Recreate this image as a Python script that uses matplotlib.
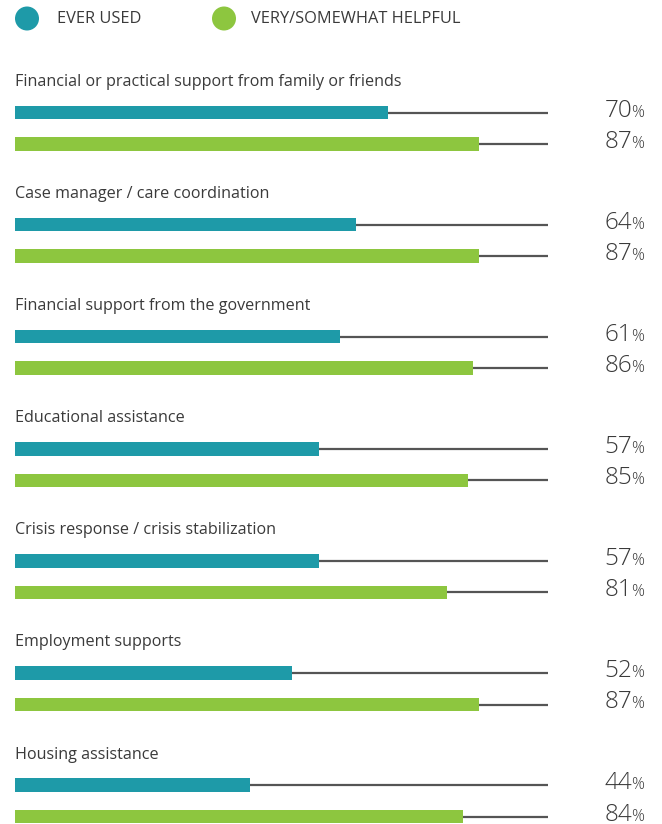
import matplotlib.pyplot as plt
from matplotlib.patches import Circle

categories = [
    "Financial or practical support from family or friends",
    "Case manager / care coordination",
    "Financial support from the government",
    "Educational assistance",
    "Crisis response / crisis stabilization",
    "Employment supports",
    "Housing assistance",
]
ever_used = [70, 64, 61, 57, 57, 52, 44]
helpful = [87, 87, 86, 85, 81, 87, 84]
series_names = ["EVER USED", "VERY/SOMEWHAT HELPFUL"]

TEAL = "#1e9aa8"
GREEN = "#8dc63f"
TRACK = "#555555"
TEXT = "#3a3a3a"

W, H = 662, 824
plt.rcParams['font.family'] = ['Open Sans', 'DejaVu Sans']

fig = plt.figure(figsize=(W / 100, H / 100), dpi=100)

# bar area: 0-100% spans x = 15..548 px, y axis in pixel rows
x0, x1 = 15, 548
ax = fig.add_axes([x0 / W, 0, (x1 - x0) / W, 1])
ax.set_xlim(0, 100)
ax.set_ylim(H, 0)
ax.axis('off')

# overlay in pixel coords for legend and value labels
ov = fig.add_axes([0, 0, 1, 1])
ov.set_xlim(0, W)
ov.set_ylim(H, 0)
ov.axis('off')

# legend
for cx, tx, color, name in [(27, 57, TEAL, series_names[0]), (224, 251, GREEN, series_names[1])]:
    ov.add_patch(Circle((cx, 18.5), 12, color=color, lw=0))
    ov.text(tx, 19, name, fontsize=11.8, color=TEXT, va='center', ha='left')

step = 112.1
bar_h = 13.5
for i, cat in enumerate(categories):
    ylab = 82 + step * i
    y_teal = ylab + 30.5
    y_green = ylab + 62
    ax.text(0, ylab, cat, fontsize=11.6, color=TEXT, va='center', ha='left',
            clip_on=False)
    for y, val, color in [(y_teal, ever_used[i], TEAL), (y_green, helpful[i], GREEN)]:
        ax.plot([0, 100], [y, y], color=TRACK, lw=1.6, solid_capstyle='butt', zorder=1)
        ax.barh(y, val, height=bar_h, color=color, zorder=2)
        ov.text(632, y + 4, f"{val}", fontsize=17.5, color=TEXT, ha='right',
                va='baseline', fontweight='light')
        ov.text(631.5, y + 4, "%", fontsize=11.5, color=TEXT, ha='left',
                va='baseline', fontweight='light')

fig.savefig("out.png", dpi=100, facecolor='white')
